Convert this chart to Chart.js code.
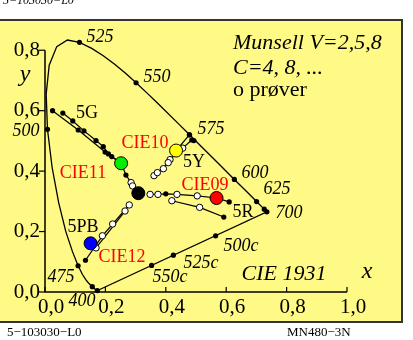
<!DOCTYPE html>
<html>
<head>
<meta charset="utf-8">
<script src="https://cdn.jsdelivr.net/npm/chart.js@4.4.1/dist/chart.umd.min.js"></script>
<style>
  html, body { margin: 0; padding: 0; background: #fff; }
  canvas { display: block; }
</style>
</head>
<body>
<canvas id="cie-chart" width="413" height="340"></canvas>
<script>
// CIE 1931 spectral locus (nm, x, y)
const waveNm = [380, 400, 420, 430, 440, 450, 460, 465, 470, 475, 480, 485, 490, 495, 500, 505, 510, 515, 520, 525, 530, 535, 540, 545, 550, 555, 560, 570, 575, 580, 590, 600, 610, 620, 625, 630, 640, 650, 700];
const locusX = [0.1741, 0.1733, 0.1714, 0.1689, 0.1644, 0.1566, 0.1440, 0.1355, 0.1241, 0.1096, 0.0913, 0.0687, 0.0454, 0.0235, 0.0082, 0.0039, 0.0139, 0.0389, 0.0743, 0.1142, 0.1547, 0.1929, 0.2296, 0.2658, 0.3016, 0.3373, 0.3731, 0.4441, 0.4788, 0.5125, 0.5752, 0.6270, 0.6658, 0.6915, 0.7006, 0.7079, 0.7190, 0.7260, 0.7347];
const locusY = [0.0050, 0.0048, 0.0051, 0.0069, 0.0109, 0.0177, 0.0297, 0.0399, 0.0578, 0.0868, 0.1327, 0.2007, 0.2950, 0.4127, 0.5384, 0.6548, 0.7502, 0.8120, 0.8338, 0.8262, 0.8059, 0.7816, 0.7543, 0.7243, 0.6923, 0.6589, 0.6245, 0.5547, 0.5202, 0.4866, 0.4242, 0.3725, 0.3340, 0.3083, 0.2993, 0.2920, 0.2809, 0.2740, 0.2653];
const markedNm = [400, 450, 475, 500, 525, 550, 575, 600, 625, 650, 700];

// purple line markers (500c, 525c, 550c)
const purpleMarks = [[0.565, 0.186], [0.425, 0.122], [0.353, 0.088]];

// Munsell hue lines
const hue5G = [
  [[0.059, 0.592], [0.092, 0.566], [0.129, 0.533], [0.169, 0.501], [0.193, 0.481], [0.210, 0.457], [0.221, 0.448], [0.252, 0.426], [0.268, 0.387], [0.285, 0.362], [0.290, 0.351]],
  [[0.025, 0.600], [0.110, 0.536], [0.199, 0.463], [0.252, 0.426]]
];
const hue5R = [
  [[0.348, 0.323], [0.374, 0.323], [0.400, 0.325], [0.437, 0.323], [0.504, 0.318], [0.568, 0.311], [0.610, 0.298]],
  [[0.420, 0.302], [0.512, 0.280], [0.592, 0.248]]
];
const hue5Y = [
  [[0.361, 0.385], [0.392, 0.408], [0.414, 0.438], [0.456, 0.476], [0.486, 0.503], [0.493, 0.501]],
  [[0.372, 0.395], [0.408, 0.428], [0.434, 0.468], [0.478, 0.520]]
];
const hue5PB = [
  [[0.279, 0.288], [0.224, 0.225], [0.190, 0.186], [0.134, 0.105]],
  [[0.265, 0.268], [0.169, 0.146]]
];

// Munsell points (black) and samples (open)
const munsellDots = [
  [0.059, 0.592], [0.092, 0.566], [0.129, 0.533], [0.169, 0.501], [0.193, 0.481], [0.210, 0.457], [0.221, 0.448], [0.268, 0.387],
  [0.025, 0.600], [0.110, 0.536], [0.199, 0.463],
  [0.400, 0.325], [0.610, 0.298], [0.592, 0.248],
  [0.486, 0.503], [0.493, 0.501], [0.478, 0.520],
  [0.134, 0.105]
];
const sampleDots = [
  [0.285, 0.362], [0.290, 0.351],
  [0.348, 0.323], [0.374, 0.323], [0.437, 0.323], [0.504, 0.318], [0.420, 0.302], [0.512, 0.280],
  [0.361, 0.385], [0.392, 0.408], [0.414, 0.438], [0.456, 0.476], [0.372, 0.395], [0.408, 0.428],
  [0.279, 0.288], [0.265, 0.268], [0.224, 0.225], [0.190, 0.186], [0.169, 0.146]
];

// CIE test colours and the centre
const cieNames = ['CIE09', 'CIE10', 'CIE11', 'CIE12', 'C'];
const cieX = [0.568, 0.434, 0.252, 0.151, 0.309];
const cieY = [0.311, 0.468, 0.426, 0.161, 0.327];
const cieColors = ['#ff0000', '#ffff00', '#00ee00', '#0000ff', '#000000'];

const xTicks = [0, 0.2, 0.4, 0.6, 0.8, 1.0];
const yTicks = [0, 0.2, 0.4, 0.6, 0.8];

const pts = arr => arr.map(p => ({ x: p[0], y: p[1] }));

const locusData = waveNm.map((w, i) => ({ x: locusX[i], y: locusY[i] }));
// close with the purple line
locusData.push({ x: locusX[0], y: locusY[0] });
const markData = markedNm.map(w => {
  const i = waveNm.indexOf(w);
  return { x: locusX[i], y: locusY[i] };
}).concat(pts(purpleMarks));

const lineSet = (arr) => ({
  data: pts(arr), showLine: true, borderColor: '#000', borderWidth: 1.2,
  pointRadius: 0, order: 3, clip: false
});

const datasets = [
  { data: cieX.map((x, i) => ({ x: x, y: cieY[i] })), pointRadius: 6.5, pointBackgroundColor: cieColors,
    pointBorderColor: '#000', pointBorderWidth: 1, order: 0, clip: false },
  { data: pts(sampleDots), pointRadius: 3.2, pointBackgroundColor: '#fff', pointBorderColor: '#000',
    pointBorderWidth: 1, order: 1, clip: false },
  { data: pts(munsellDots).concat(markData), pointRadius: 2.6, pointBackgroundColor: '#000', pointBorderColor: '#000',
    pointBorderWidth: 0, order: 1, clip: false },
  { data: locusData, showLine: true, borderColor: '#000', borderWidth: 1.3, pointRadius: 0, order: 4, clip: false }
];
[hue5G, hue5R, hue5Y, hue5PB].forEach(h => h.forEach(l => datasets.push(lineSet(l))));

const SERIF = '"Liberation Serif", "Times New Roman", serif';

const decor = {
  id: 'decor',
  beforeDraw(chart) {
    const ctx = chart.ctx;
    ctx.save();
    ctx.fillStyle = '#fff';
    ctx.fillRect(0, 0, chart.width, chart.height);
    ctx.fillStyle = '#fff985';
    ctx.fillRect(0, 20, 402, 302);
    ctx.strokeStyle = '#333';
    ctx.lineWidth = 2;
    ctx.beginPath();
    ctx.moveTo(0, 20); ctx.lineTo(402, 20); ctx.lineTo(402, 322); ctx.lineTo(0, 322);
    ctx.stroke();

    const xs = chart.scales.x, ys = chart.scales.y;
    const x0 = xs.getPixelForValue(0), y0 = ys.getPixelForValue(0);
    ctx.strokeStyle = '#000';
    ctx.lineWidth = 1.5;
    ctx.beginPath();
    ctx.moveTo(x0, ys.getPixelForValue(0.8)); ctx.lineTo(x0, y0);
    ctx.lineTo(xs.getPixelForValue(1), y0);
    ctx.stroke();
    ctx.lineWidth = 1.2;
    ctx.fillStyle = '#000';
    ctx.font = '21px ' + SERIF;
    ctx.textBaseline = 'middle';
    xTicks.forEach(v => {
      const px = xs.getPixelForValue(v);
      ctx.beginPath(); ctx.moveTo(px, y0 - 5); ctx.lineTo(px, y0); ctx.stroke();
      ctx.textAlign = 'center';
      ctx.fillText(v.toFixed(1).replace('.', ','), px + 6, y0 + 15);
    });
    yTicks.forEach(v => {
      const py = ys.getPixelForValue(v);
      ctx.beginPath(); ctx.moveTo(x0 - 6, py); ctx.lineTo(x0, py); ctx.stroke();
      ctx.textAlign = 'right';
      ctx.fillText(v.toFixed(1).replace('.', ','), 40, py);
    });
    ctx.restore();
  },
  afterDraw(chart) {
    const ctx = chart.ctx;
    ctx.save();
    ctx.textBaseline = 'middle';
    const txt = (s, x, y, font, color, align) => {
      ctx.font = font;
      ctx.fillStyle = color || '#000';
      ctx.textAlign = align || 'center';
      ctx.fillText(s, x, y);
    };
    const it18 = 'italic 18px ' + SERIF, n18 = '18px ' + SERIF;
    const it22 = 'italic 22px ' + SERIF, n22 = '22px ' + SERIF;
    // wavelength labels
    txt('525', 100, 37, it18); txt('550', 157, 77, it18); txt('575', 211, 129, it18);
    txt('600', 255, 173, it18); txt('625', 277, 189, it18); txt('700', 289, 213, it18);
    txt('500', 26, 131, it18); txt('475', 61, 277, it18); txt('400', 82, 301, it18);
    txt('500c', 241, 246, it18); txt('525c', 201, 263, it18); txt('550c', 170, 277, it18);
    // hue labels
    txt('5G', 87, 113, n18); txt('5Y', 194, 162, n18); txt('5R', 243, 212, n18); txt('5PB', 83, 227, n18);
    txt('CIE10', 145, 143, n18, '#ff0000'); txt('CIE11', 83, 173, n18, '#ff0000');
    txt('CIE09', 205, 185, n18, '#ff0000'); txt('CIE12', 122, 257, n18, '#ff0000');
    // header and axis titles
    txt('Munsell V=2,5,8', 233, 43, it22, '#000', 'left');
    txt('C=4, 8, ...', 233, 68, it22, '#000', 'left');
    txt('o prøver', 233, 90, n22, '#000', 'left');
    txt('CIE 1931', 284, 274, it22);
    txt('x', 367, 272, 'italic 24px ' + SERIF);
    txt('y', 25, 75, 'italic 24px ' + SERIF);
    // footer
    txt('5\u2212103030\u2212L0', 7, 333, '13px ' + SERIF, '#000', 'left');
    txt('MN480\u22123N', 287, 333, '13px ' + SERIF, '#000', 'left');
    ctx.textBaseline = 'alphabetic';
    txt('5\u2212103030\u2212L0', 3, 4, 'italic 12px ' + SERIF, '#000', 'left');
    ctx.restore();
  }
};

const config = {
  type: 'scatter',
  data: { datasets: datasets },
  options: {
    responsive: false,
    animation: false,
    devicePixelRatio: 1,
    layout: { padding: { left: 45, right: 66, top: 20, bottom: 48 } },
    elements: { line: { tension: 0 } },
    scales: {
      x: { type: 'linear', min: 0, max: 1, display: false },
      y: { type: 'linear', min: 0, max: 0.9, display: false }
    },
    plugins: { legend: { display: false }, tooltip: { enabled: false } }
  },
  plugins: [decor]
};

const cieChart = new Chart(document.getElementById('cie-chart'), config);
</script>
</body>
</html>
